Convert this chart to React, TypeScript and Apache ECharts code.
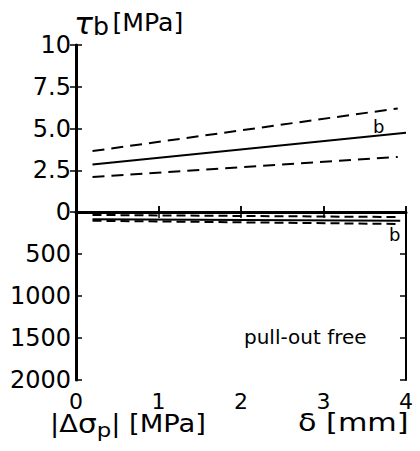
import React, { useEffect, useRef } from "react";
import * as echarts from "echarts";

// δ [mm] positions of the line end points
const xShort = [0.2, 3.9];
const xLong = [0.2, 4.0];
// τb [MPa] (upper panel)
const tauUpper = [3.65, 6.2];
const tauMean = [2.85, 4.75];
const tauLower = [2.1, 3.3];
// |Δσp| [MPa] (lower panel)
const xBottom = [0.2, 3.93];
const sigUpper = [35, 60];
const sigMean = [87, 105];
const sigLower = [104, 143];
// tick labels
const xTicks = [0, 1, 2, 3, 4];
const tauTicks = [0, 2.5, 5, 7.5, 10];
const sigTicks = [0, 500, 1000, 1500, 2000];

const FONT = "DejaVu Sans";
const pair = (xs: number[], ys: number[]) => xs.map((x, i) => [x, ys[i]]);

export default function App() {
  const ref = useRef<HTMLDivElement>(null);
  useEffect(() => {
    const chart = echarts.init(ref.current!, null, { renderer: "svg" });
    const L = 76, R = 14;
    const tick = { show: true, inside: true, length: 6, lineStyle: { color: "#000", width: 1.5 } };
    const noLabel = { show: false };
    const line = (xi: number, yi: number, data: number[][], dashed: number[] | null, w = 2) => ({
      type: "line",
      xAxisIndex: xi,
      yAxisIndex: yi,
      data,
      showSymbol: false,
      silent: true,
      lineStyle: { color: "#000", width: w, type: dashed ?? "solid" },
    });
    chart.setOption({
      animation: false,
      backgroundColor: "#fff",
      grid: [
        { left: L, right: R, top: 45, height: 167 },
        { left: L, right: R, top: 212, height: 168 },
      ],
      xAxis: [
        {
          gridIndex: 0, type: "value", min: 0, max: 4, interval: 1, position: "bottom",
          axisLine: { show: true, lineStyle: { color: "#000", width: 3 } },
          axisTick: tick, axisLabel: noLabel, splitLine: { show: false },
        },
        {
          gridIndex: 0, type: "value", min: 0, max: 4, interval: 1, position: "top",
          axisLine: { show: true, lineStyle: { color: "#000", width: 2 } },
          axisTick: tick, axisLabel: noLabel, splitLine: { show: false },
        },
        {
          gridIndex: 1, type: "value", min: 0, max: 4, interval: 1, position: "bottom",
          axisLine: { show: true, lineStyle: { color: "#000", width: 2 } },
          axisTick: tick,
          axisLabel: {
            show: true, color: "#000", fontFamily: FONT, fontSize: 22, margin: 10,
            formatter: (v: number) => (xTicks.includes(v) ? String(v) : ""),
          },
          splitLine: { show: false },
        },
      ],
      yAxis: [
        {
          gridIndex: 0, type: "value", min: 0, max: 10, interval: 2.5, position: "left",
          axisLine: { show: true, lineStyle: { color: "#000", width: 3 } },
          axisTick: tick,
          axisLabel: {
            show: true, color: "#000", fontFamily: FONT, fontSize: 24, margin: 5,
            formatter: (v: number) =>
              tauTicks.includes(v) ? (v === 10 ? "10" : v === 0 ? "0" : v.toFixed(1)) : "",
          },
          splitLine: { show: false },
        },
        {
          gridIndex: 0, type: "value", min: 0, max: 10, interval: 2.5, position: "right",
          axisLine: { show: true, lineStyle: { color: "#000", width: 2 } },
          axisTick: tick, axisLabel: noLabel, splitLine: { show: false },
        },
        {
          gridIndex: 1, type: "value", min: 0, max: 2000, interval: 500, inverse: true, position: "left",
          axisLine: { show: true, lineStyle: { color: "#000", width: 3 } },
          axisTick: tick,
          axisLabel: {
            show: true, color: "#000", fontFamily: FONT, fontSize: 24, margin: 5,
            formatter: (v: number) => (v === 0 || !sigTicks.includes(v) ? "" : String(v)),
          },
          splitLine: { show: false },
        },
        {
          gridIndex: 1, type: "value", min: 0, max: 2000, interval: 500, inverse: true, position: "right",
          axisLine: { show: true, lineStyle: { color: "#000", width: 2 } },
          axisTick: tick, axisLabel: noLabel, splitLine: { show: false },
        },
      ],
      series: [
        line(0, 0, pair(xShort, tauUpper), [12, 7]),
        line(0, 0, pair(xLong, tauMean), null),
        line(0, 0, pair(xShort, tauLower), [12, 7]),
        line(2, 2, pair(xBottom, sigUpper), [9, 5]),
        line(2, 2, pair(xBottom, sigMean), null),
        line(2, 2, pair(xBottom, sigLower), [9, 5]),
      ],
      graphic: [
        {
          type: "text", left: 74, top: 8, scaleX: 1.05,
          style: {
            text: "{t|τ}{s|b} {n|[MPa]}",
            rich: {
              t: { fontFamily: FONT, fontSize: 30, fontStyle: "italic", fill: "#000" },
              s: { fontFamily: FONT, fontSize: 24, fill: "#000", padding: [8, 0, 0, 0] },
              n: { fontFamily: FONT, fontSize: 24, fill: "#000" },
            },
          },
        },
        { type: "text", left: 373, top: 117, style: { text: "b", fontFamily: FONT, fontSize: 18, fill: "#000" } },
        { type: "text", left: 389, top: 225, style: { text: "b", fontFamily: FONT, fontSize: 18, fill: "#000" } },
        { type: "text", left: 244, top: 327, style: { text: "pull-out free", fontFamily: FONT, fontSize: 20, fill: "#000" } },
        {
          type: "text", left: 50, top: 411, scaleX: 1.14,
          style: {
            text: "{n||Δ}{t|σ}{s|p}{n|| [MPa]}",
            rich: {
              n: { fontFamily: FONT, fontSize: 24, fill: "#000" },
              t: { fontFamily: FONT, fontSize: 26, fill: "#000" },
              s: { fontFamily: FONT, fontSize: 20, fill: "#000", padding: [12, 0, 0, 0] },
            },
          },
        },
        {
          type: "text", left: 298, top: 411, scaleX: 1.26,
          style: { text: "δ [mm]", fontFamily: FONT, fontSize: 24, fill: "#000" },
        },
      ],
    });
    return () => chart.dispose();
  }, []);
  return <div ref={ref} style={{ position: "fixed", left: 0, top: 0, width: 420, height: 451 }} />;
}
